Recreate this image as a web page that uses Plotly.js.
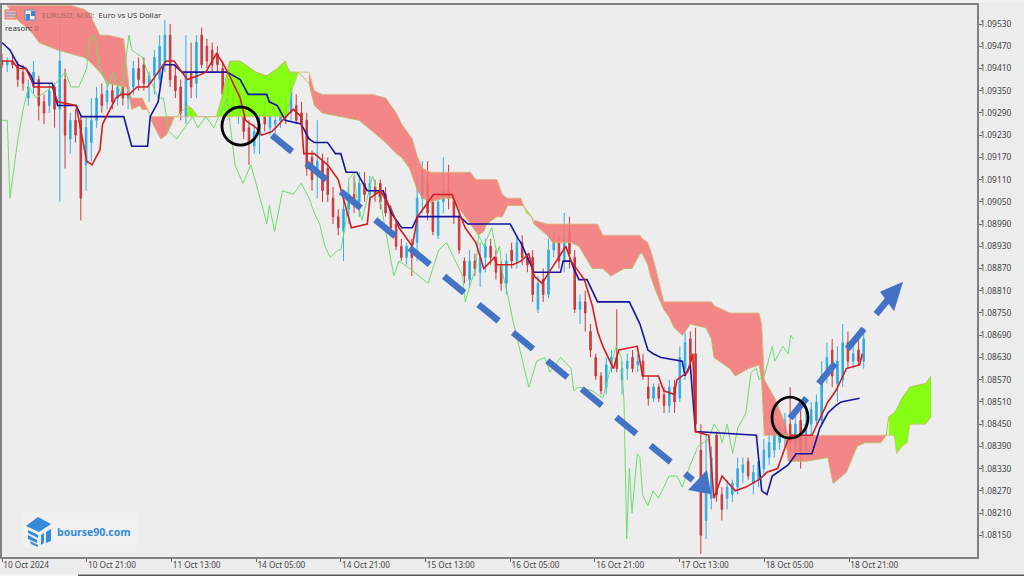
<!DOCTYPE html>
<html><head><meta charset="utf-8">
<script src="https://cdn.plot.ly/plotly-3.0.1.min.js"></script>
<style>html,body{margin:0;padding:0;background:#ececec;overflow:hidden}#c{width:1024px;height:576px}</style>
</head><body><div id="c"></div>
<script>
const candleStep=1.985;
const open=[1.0943,1.0942,1.0943,1.0942,1.0940,1.0933,1.0936,1.0938,1.0932,1.0931,1.0936,1.0930,1.0938,1.0922,1.0927,1.0927,1.0915,1.0921,1.0927,1.0934,1.0932,1.0935,1.0933,1.0936,1.0933,1.0936,1.0941,1.0942,1.0937,1.0939,1.0938,1.0942,1.0950,1.0939,1.0936,1.0928,1.0940,1.0937,1.0950,1.0947,1.0946,1.0945,1.0941,1.0934,1.0934,1.0929,1.0928,1.0925,1.0920,1.0923,1.0928,1.0925,1.0926,1.0927,1.0930,1.0929,1.0931,1.0929,1.0927,1.0917,1.0912,1.0916,1.0914,1.0906,1.0901,1.0897,
1.0903,1.0907,1.0905,1.0910,1.0907,1.0909,1.0910,1.0907,1.0903,1.0899,1.0893,1.0890,1.0893,1.0894,1.0906,1.0910,1.0905,1.0896,1.0905,1.0908,1.0906,1.0901,1.0889,1.0884,1.0889,1.0886,1.0890,1.0893,1.0890,1.0888,1.0883,1.0892,1.0889,1.0894,1.0890,1.0890,1.0876,1.0884,1.0880,1.0892,1.0894,1.0889,1.0897,1.0890,1.0876,1.0878,1.0870,1.0863,1.0858,1.0855,1.0861,1.0863,1.0857,1.0860,1.0863,1.0861,1.0862,1.0855,1.0852,1.0855,1.0853,1.0850,1.0855,1.0852,1.0860,1.0868,1.0864,1.0838,1.0819,1.0825,1.0842,1.0826,1.0825,1.0826,1.0828,1.0832,1.0835,1.0829,1.0830,1.0833,1.0836,1.0838,1.0840,1.0842,1.0845,1.0839,1.0846,1.0838,1.0845,1.0846,1.0846,1.0858,1.0865,1.0856,1.0857,1.0867,1.0862,1.0865,1.0862];
const high=[1.0945,1.0944,1.0945,1.0943,1.0942,1.0938,1.0943,1.0939,1.0934,1.0937,1.0937,1.0954,1.0941,1.0929,1.0930,1.0928,1.0928,1.0933,1.0936,1.0937,1.0938,1.0937,1.0938,1.0937,1.0938,1.0943,1.0944,1.0944,1.0940,1.0946,1.0950,1.0954,1.0953,1.0942,1.0938,1.0950,1.0948,1.0950,1.0952,1.0949,1.0948,1.0947,1.0943,1.0940,1.0938,1.0935,1.0930,1.0927,1.0926,1.0928,1.0935,1.0929,1.0928,1.0931,1.0934,1.0938,1.0934,1.0932,1.0929,1.0919,1.0927,1.0918,1.0917,1.0909,1.0903,1.0906,
1.0910,1.0912,1.0913,1.0913,1.0912,1.0911,1.0911,1.0909,1.0904,1.0900,1.0895,1.0894,1.0895,1.0912,1.0916,1.0916,1.0906,1.0908,1.0917,1.0915,1.0907,1.0903,1.0890,1.0892,1.0891,1.0894,1.0895,1.0895,1.0892,1.0889,1.0891,1.0894,1.0896,1.0896,1.0891,1.0892,1.0885,1.0887,1.0895,1.0897,1.0896,1.0902,1.0901,1.0892,1.0880,1.0881,1.0872,1.0864,1.0859,1.0863,1.0865,1.0876,1.0862,1.0864,1.0865,1.0864,1.0864,1.0858,1.0856,1.0856,1.0855,1.0857,1.0857,1.0866,1.0870,1.0870,1.0871,1.0845,1.0842,1.0839,1.0843,1.0828,1.0830,1.0830,1.0836,1.0836,1.0836,1.0834,1.0836,1.0841,1.0842,1.0844,1.0845,1.0848,1.0855,1.0848,1.0850,1.0849,1.0851,1.0853,1.0862,1.0867,1.0868,1.0866,1.0872,1.0870,1.0867,1.0869,1.0871];
const low=[1.0941,1.0940,1.0941,1.0936,1.0935,1.0931,1.0934,1.0927,1.0926,1.0929,1.0925,1.0905,1.0914,1.0918,1.0921,1.0900,1.0908,1.0916,1.0925,1.0929,1.0930,1.0930,1.0931,1.0931,1.0930,1.0934,1.0935,1.0935,1.0932,1.0934,1.0936,1.0940,1.0936,1.0933,1.0927,1.0926,1.0933,1.0933,1.0941,1.0941,1.0940,1.0940,1.0933,1.0932,1.0929,1.0926,1.0922,1.0915,1.0918,1.0918,1.0924,1.0923,1.0923,1.0925,1.0926,1.0927,1.0926,1.0925,1.0912,1.0908,1.0906,1.0905,1.0905,1.0899,1.0896,1.0889,
1.0899,1.0902,1.0901,1.0905,1.0904,1.0905,1.0903,1.0901,1.0896,1.0892,1.0889,1.0888,1.0885,1.0889,1.0902,1.0900,1.0896,1.0895,1.0902,1.0903,1.0899,1.0891,1.0883,1.0882,1.0885,1.0882,1.0886,1.0888,1.0884,1.0881,1.0880,1.0887,1.0887,1.0888,1.0886,1.0878,1.0875,1.0878,1.0879,1.0890,1.0887,1.0886,1.0887,1.0875,1.0872,1.0870,1.0863,1.0857,1.0853,1.0853,1.0859,1.0859,1.0853,1.0857,1.0859,1.0859,1.0857,1.0850,1.0851,1.0851,1.0848,1.0848,1.0848,1.0851,1.0857,1.0860,1.0843,1.0810,1.0814,1.0822,1.0824,1.0819,1.0822,1.0824,1.0826,1.0829,1.0830,1.0826,1.0828,1.0831,1.0834,1.0836,1.0838,1.0839,1.0837,1.0835,1.0833,1.0837,1.0842,1.0845,1.0845,1.0856,1.0855,1.0851,1.0855,1.0860,1.0860,1.0861,1.0860];
const close=[1.0942,1.0943,1.0942,1.0938,1.0937,1.0936,1.0940,1.0931,1.0929,1.0935,1.0930,1.0943,1.0923,1.0927,1.0923,1.0906,1.0925,1.0927,1.0933,1.0931,1.0935,1.0932,1.0936,1.0933,1.0936,1.0941,1.0938,1.0937,1.0939,1.0944,1.0947,1.0950,1.0938,1.0935,1.0929,1.0940,1.0936,1.0948,1.0942,1.0943,1.0942,1.0942,1.0934,1.0938,1.0930,1.0933,1.0924,1.0921,1.0924,1.0926,1.0926,1.0928,1.0927,1.0930,1.0928,1.0936,1.0927,1.0926,1.0914,1.0911,1.0916,1.0908,1.0907,1.0901,1.0898,1.0903,
1.0907,1.0905,1.0910,1.0907,1.0910,1.0907,1.0905,1.0902,1.0898,1.0893,1.0890,1.0893,1.0890,1.0906,1.0912,1.0902,1.0897,1.0905,1.0908,1.0906,1.0901,1.0892,1.0885,1.0889,1.0887,1.0890,1.0893,1.0890,1.0886,1.0883,1.0889,1.0889,1.0894,1.0890,1.0888,1.0880,1.0883,1.0880,1.0892,1.0894,1.0889,1.0895,1.0891,1.0876,1.0878,1.0875,1.0865,1.0858,1.0854,1.0861,1.0863,1.0860,1.0860,1.0862,1.0860,1.0862,1.0858,1.0852,1.0855,1.0852,1.0850,1.0855,1.0851,1.0863,1.0867,1.0862,1.0845,1.0815,1.0832,1.0836,1.0826,1.0822,1.0828,1.0829,1.0833,1.0834,1.0831,1.0832,1.0835,1.0838,1.0840,1.0842,1.0843,1.0846,1.0840,1.0845,1.0838,1.0845,1.0849,1.0851,1.0858,1.0863,1.0858,1.0862,1.0867,1.0862,1.0864,1.0862,1.0868];

const tenkanBars=[0,4,6,9,11,12,19,21,28,29,32,34,37,38,43,45,48,51,55,60,62,65,68,70,74,77,81,83,86,90,92,96,98,102,106,110,113,114,118,123,127,130,132,138,139,143,147,150,155,157,163,170,175,179,182,186,187,193,196,199,201,204,213,215,220,223,225,227,231,233,240,242,248,250,254,255,259,261,262,267,269,272,277,281,286,289,293,297,298,306,312,315,319,324,325];
const tenkan=[1.0943,1.0943,1.0941,1.0941,1.0938,1.0936,1.0936,1.0932,1.0931,1.0927,1.0916,1.0915,1.0919,1.0926,1.0933,1.0934,1.0934,1.0936,1.0936,1.0941,1.0943,1.0943,1.0940,1.0938,1.0939,1.0940,1.0945,1.0943,1.0939,1.0933,1.0927,1.0925,1.0923,1.0924,1.0927,1.0930,1.0928,1.0918,1.0918,1.0915,1.0911,1.0903,1.0898,1.0899,1.0906,1.0908,1.0903,1.0898,1.0893,1.0901,1.0907,1.0907,1.0898,1.0894,1.0887,1.0890,1.0888,1.0888,1.0889,1.0891,1.0885,1.0883,1.0893,1.0889,1.0884,1.0877,1.0870,1.0866,1.0860,1.0865,1.0866,1.0858,1.0858,1.0854,1.0853,1.0857,1.0859,1.0864,1.0843,1.0842,1.0825,1.0831,1.0827,1.0828,1.0830,1.0832,1.0833,1.0841,1.0842,1.0842,1.0851,1.0854,1.0860,1.0861,1.0864];

const kijunBars=[0,3,6,9,11,12,19,21,28,30,46,49,55,56,59,61,65,68,85,90,93,100,101,104,107,113,116,118,123,126,128,130,134,137,138,144,147,151,155,157,165,173,176,192,195,196,201,211,212,215,216,218,221,225,237,241,244,246,249,257,258,260,262,285,287,289,291,297,300,306,309,312,315,317,324];
const kijun=[1.0948,1.0946,1.0942,1.0941,1.0939,1.0937,1.0937,1.0931,1.0931,1.0928,1.0928,1.0920,1.0920,1.0928,1.0932,1.0942,1.0942,1.0940,1.0940,1.0938,1.0934,1.0934,1.0932,1.0931,1.0927,1.0926,1.0922,1.0921,1.0921,1.0918,1.0918,1.0913,1.0913,1.0909,1.0908,1.0908,1.0902,1.0898,1.0898,1.0901,1.0901,1.0901,1.0899,1.0899,1.0895,1.0894,1.0886,1.0886,1.0889,1.0889,1.0887,1.0884,1.0884,1.0878,1.0878,1.0872,1.0865,1.0864,1.0863,1.0862,1.0858,1.0861,1.0843,1.0842,1.0827,1.0826,1.0831,1.0834,1.0837,1.0837,1.0844,1.0848,1.0850,1.0851,1.0852];

const chikouBars=[0,2,3,6,8,10,13,15,19,24,26,29,32,33,35,37,40,42,45,48,49,53,56,59,61,63,66,72,74,77,80,85,87,88,91,94,99,100,101,103,106,110,113,116,118,120,122,124,127,128,130,131,133,134,136,140,143,148,150,154,161,165,168,174,175,177,179,180,182,185,187,188,189,191,193,195,199,202,205,207,211,215,216,218,223,227,230,232,234,235,236,237,238,240,241,242,244,246,248,252,255,257,260,263,267,269,271,272,274,276,278,281,283,285,286,288,291,292,295,297,298,299];
const chikou=[1.0927,1.0927,1.0906,1.0922,1.0930,1.0936,1.0933,1.0934,1.0936,1.0940,1.0936,1.0936,1.0941,1.0949,1.0950,1.0941,1.0936,1.0940,1.0934,1.0950,1.0946,1.0944,1.0938,1.0933,1.0933,1.0924,1.0922,1.0928,1.0925,1.0928,1.0925,1.0933,1.0922,1.0915,1.0910,1.0915,1.0902,1.0899,1.0904,1.0897,1.0908,1.0907,1.0910,1.0906,1.0902,1.0899,1.0893,1.0890,1.0892,1.0892,1.0900,1.0911,1.0913,1.0906,1.0900,1.0912,1.0905,1.0885,1.0889,1.0887,1.0883,1.0892,1.0894,1.0885,1.0878,1.0883,1.0887,1.0896,1.0893,1.0898,1.0891,1.0893,1.0886,1.0880,1.0873,1.0867,1.0855,1.0862,1.0863,1.0859,1.0863,1.0860,1.0854,1.0855,1.0854,1.0852,1.0860,1.0866,1.0863,1.0851,1.0814,1.0833,1.0821,1.0837,1.0836,1.0826,1.0823,1.0827,1.0825,1.0831,1.0831,1.0828,1.0834,1.0839,1.0841,1.0845,1.0843,1.0840,1.0845,1.0837,1.0844,1.0848,1.0859,1.0860,1.0857,1.0858,1.0866,1.0862,1.0866,1.0864,1.0869,1.0868];

const cloudBars=[2,6,11,14,21,26,31,33,37,40,46,47,48,49,52,53,55,56,57,60,62,64,65,66,70,72,74,81,83,86,90,94,96,100,104,107,108,109,111,112,116,118,121,128,135,140,145,149,151,154,155,157,159,162,167,170,174,177,179,180,182,183,187,189,191,196,197,198,200,201,206,208,215,218,223,225,227,230,235,238,241,242,244,245,247,250,252,254,257,260,266,268,269,275,277,282,286,287,288,292,296,297,304,312,314,319,323,326,332,334,335,337,338,340,342,343,349,351];
const spanA=[1.0958,1.0954,1.0951,1.0948,1.0946,1.0945,1.0944,1.0943,1.0940,1.0937,1.0936,1.0936,1.0934,1.0930,1.0931,1.0930,1.0930,1.0928,1.0926,1.0922,1.0923,1.0926,1.0928,1.0928,1.0931,1.0930,1.0928,1.0928,1.0933,1.0943,1.0943,1.0941,1.0940,1.0939,1.0941,1.0943,1.0941,1.0940,1.0940,1.0940,1.0937,1.0931,1.0929,1.0928,1.0927,1.0924,1.0921,1.0918,1.0917,1.0914,1.0912,1.0908,1.0906,1.0905,1.0906,1.0906,1.0902,1.0899,1.0897,1.0896,1.0897,1.0899,1.0901,1.0901,1.0904,1.0904,1.0904,1.0903,1.0901,1.0899,1.0896,1.0894,1.0894,1.0893,1.0887,1.0887,1.0887,1.0885,1.0887,1.0887,1.0891,1.0891,1.0888,1.0885,1.0881,1.0876,1.0874,1.0871,1.0869,1.0872,1.0871,1.0868,1.0863,1.0860,1.0858,1.0860,1.0861,1.0857,1.0842,1.0842,1.0842,1.0835,1.0835,1.0836,1.0829,1.0832,1.0839,1.0840,1.0840,1.0842,1.0847,1.0848,1.0849,1.0852,1.0854,1.0855,1.0856,1.0858];
const spanB=[1.0958,1.0958,1.0958,1.0958,1.0958,1.0958,1.0957,1.0956,1.0950,1.0950,1.0949,1.0943,1.0935,1.0933,1.0933,1.0933,1.0930,1.0928,1.0928,1.0928,1.0928,1.0928,1.0928,1.0928,1.0928,1.0928,1.0928,1.0928,1.0928,1.0928,1.0928,1.0928,1.0928,1.0928,1.0928,1.0928,1.0928,1.0934,1.0938,1.0940,1.0940,1.0935,1.0934,1.0934,1.0934,1.0934,1.0933,1.0929,1.0926,1.0923,1.0922,1.0917,1.0914,1.0913,1.0913,1.0913,1.0913,1.0913,1.0911,1.0911,1.0911,1.0911,1.0911,1.0907,1.0906,1.0906,1.0904,1.0902,1.0901,1.0900,1.0899,1.0899,1.0899,1.0899,1.0899,1.0899,1.0896,1.0896,1.0896,1.0896,1.0896,1.0895,1.0894,1.0892,1.0887,1.0878,1.0878,1.0878,1.0878,1.0878,1.0878,1.0878,1.0877,1.0875,1.0875,1.0875,1.0875,1.0872,1.0857,1.0852,1.0845,1.0842,1.0842,1.0842,1.0842,1.0842,1.0842,1.0842,1.0842,1.0842,1.0842,1.0842,1.0837,1.0839,1.0840,1.0845,1.0845,1.0847];

const dateTicks=[0,32,64,96,128,160,192,224,256,288,320];
const dateLabels=['10 Oct 2024','10 Oct 21:00','11 Oct 13:00','14 Oct 05:00','14 Oct 21:00','15 Oct 13:00','16 Oct 05:00','16 Oct 21:00','17 Oct 13:00','18 Oct 05:00','18 Oct 21:00'];
const priceTicks=[1.0953,1.0947,1.0941,1.0935,1.0929,1.0923,1.0917,1.0911,1.0905,1.0899,1.0893,1.0887,1.0881,1.0875,1.0869,1.0863,1.0857,1.0851,1.0845,1.0839,1.0833,1.0827,1.0821,1.0815];
const trendDownBars=[102,261], trendDownPrices=[1.0923,1.08299];
const trendUpBars=[297.7,335.5], trendUpPrices=[1.08466,1.08793];
const headDownBars=[266.3,259.2,267.9], headDownPrices=[1.08326,1.08272,1.08261];
const headUpBars=[340.4,331.7,337], headUpPrices=[1.08834,1.08807,1.08755];

const L=2,T=5,W=975,H=552;
const FONT='"Noto Sans",sans-serif';
const candleBars=open.map((_,i)=>i*candleStep);
const traces=[];
traces.push({type:'candlestick',x:candleBars,open,high,low,close,whiskerwidth:0,
 increasing:{line:{color:'#35ace4',width:1},fillcolor:'#29a6e2'},
 decreasing:{line:{color:'#c93a3e',width:1},fillcolor:'#c93a3e'},hoverinfo:'skip',showlegend:false});
// cloud runs, split wherever the spans change order
let run={x:[],a:[],b:[]},cloudColor=null;
const flush=(col)=>{ if(run.x.length>1){traces.push({type:'scatter',mode:'none',fill:'toself',
 fillcolor:col==='g'?'rgba(124,255,0,0.92)':'rgba(244,118,118,0.87)',
 x:run.x.concat(run.x.slice().reverse()),y:run.a.concat(run.b.slice().reverse()),showlegend:false,hoverinfo:'skip'});} };
cloudBars.forEach((b,i)=>{
 const s=spanA[i]>spanB[i]?'g':spanA[i]<spanB[i]?'r':null;
 run.x.push(b);run.a.push(spanA[i]);run.b.push(spanB[i]);
 if(s&&cloudColor&&s!==cloudColor){const lx=run.x.pop(),la=run.a.pop(),lb=run.b.pop();flush(cloudColor);run={x:[lx],a:[la],b:[lb]};}
 if(s)cloudColor=s;
});
flush(cloudColor);
const ln=(x,y,c,w,extra)=>Object.assign({type:'scatter',mode:'lines',x,y,line:{color:c,width:w},showlegend:false,hoverinfo:'skip'},extra||{});
traces.push(ln(cloudBars,spanA,'#c9b56c',1));
traces.push(ln(cloudBars,spanB,'#d8bd78',0.8));
traces.push(ln(chikouBars,chikou,'#6fdc6f',1));
traces.push(ln(kijunBars,kijun,'#15159e',1.6));
traces.push(ln(tenkanBars,tenkan,'#d01f22',1.6));
traces.push(ln(trendDownBars,trendDownPrices,'#4472c4',6.5,{line:{color:'#4472c4',width:6.5,dash:'26px,18.5px'}}));
traces.push(ln(trendUpBars,trendUpPrices,'#4472c4',6.5,{line:{color:'#4472c4',width:6.5,dash:'26px,19px'}}));
[[headDownBars,headDownPrices],[headUpBars,headUpPrices]].forEach(([x,y])=>traces.push({type:'scatter',mode:'none',fill:'toself',fillcolor:'#4472c4',x,y,showlegend:false,hoverinfo:'skip'}));

const px=(x)=>(x-L)/W, py=(y)=>(T+H-y)/H;
const poly=(pts,c,extra)=>Object.assign({type:'path',xref:'paper',yref:'paper',layer:'above',fillcolor:c,line:{width:0},
 path:'M'+pts.map(p=>px(p[0])+' '+py(p[1])).join(' L')+' Z'},extra||{});
const rect=(x0,y0,x1,y1,c,ln_)=>({type:'rect',xref:'paper',yref:'paper',layer:'above',x0:px(x0),x1:px(x1),y0:py(y1),y1:py(y0),fillcolor:c,line:ln_||{width:0}});
const BLUE='#3389da';
const shapes=[
 {type:'circle',xref:'x',yref:'y',x0:83.1,x1:97.1,y0:1.09203,y1:1.09306,line:{color:'#000',width:2.8},layer:'above'},
 {type:'circle',xref:'x',yref:'y',x0:290.9,x1:304.5,y0:1.08412,y1:1.08523,line:{color:'#000',width:2.8},layer:'above'},
 rect(22,513,138,548,'#f0f0f1'),
 poly([[26,526],[38,517],[51,524],[39,532]],BLUE),
 poly([[28,530],[38,535],[38,538],[28,533]],BLUE),
 poly([[28,535],[37,540],[37,543],[28,539]],BLUE),
 poly([[30,541],[38,545],[38,547],[31,544]],BLUE),
 poly([[41,535],[44,533],[44,543],[41,545]],BLUE),
 poly([[46,532],[51,529],[51,541],[46,543]],BLUE),
 rect(5,10,16,19,'#f4b0a8',{color:'#e07060',width:1}),
 rect(6,12.5,15,13.5,'#6a8fc8'),
 rect(6,15.5,15,16.5,'#6a8fc8'),
 rect(25,10,35,20,'#f7f0f0',{color:'#5b8bc0',width:1}),
 rect(26,14,30,20,'#3f86cf'),
 rect(31,11,35,16,'#3f86cf'),
 rect(0,0,1024,2.5,'#f3f3f3'),
 rect(0,574.5,78,576,'#f8f8f8'),
 rect(78,574.5,1024,576,'#555'),
];
const annotation=(x,y,text,c,size,extra)=>Object.assign({xref:'paper',yref:'paper',x:px(x),y:py(y),text,showarrow:false,xanchor:'left',yanchor:'middle',xshift:-1,font:{family:FONT,size,color:c}},extra||{});
const annotations=[
 annotation(41,15,'<span style="color:#a86a68">EURUSD, M30:</span>  Euro vs US Dollar','#3c3c3c',7.8),
 annotation(4,27.5,'reason: <span style="color:#a86a68">0</span>','#3c3c3c',7.8),
 annotation(56,532,'bourse90.com',BLUE,10.5,{font:{family:'"Open Sans",sans-serif',size:10.5,color:BLUE,weight:700}}),
];
const layout={width:1024,height:576,margin:{l:L,r:1024-L-W,t:T,b:576-T-H,pad:0},paper_bgcolor:'#ececec',plot_bgcolor:'#ededed',showlegend:false,boxgap:0.58,
 xaxis:{type:'linear',range:[0,W/2.647],tickmode:'array',tickvals:dateTicks,ticktext:dateLabels,ticks:'outside',ticklen:3,tickcolor:'#666',tickwidth:1,ticklabelposition:'outside right',
  tickfont:{family:FONT,size:8.2,color:'#444'},showgrid:false,zeroline:false,showline:true,mirror:true,linecolor:'#808080',linewidth:1.6,rangeslider:{visible:false},fixedrange:true},
 yaxis:{side:'right',range:[1.0953-(557-24)*0.0006/22.23,1.0953+(24-5)*0.0006/22.23],tickmode:'array',tickvals:priceTicks,ticktext:priceTicks.map(v=>v.toFixed(5)),ticks:'outside',ticklen:3,tickcolor:'#666',tickwidth:1,ticklabelstandoff:-3,
  tickfont:{family:FONT,size:8.4,color:'#444'},showgrid:false,zeroline:false,showline:true,mirror:true,linecolor:'#808080',linewidth:1.6,fixedrange:true},
 shapes,annotations};
Plotly.newPlot('c',traces,layout,{staticPlot:true,displayModeBar:false});
</script></body></html>
